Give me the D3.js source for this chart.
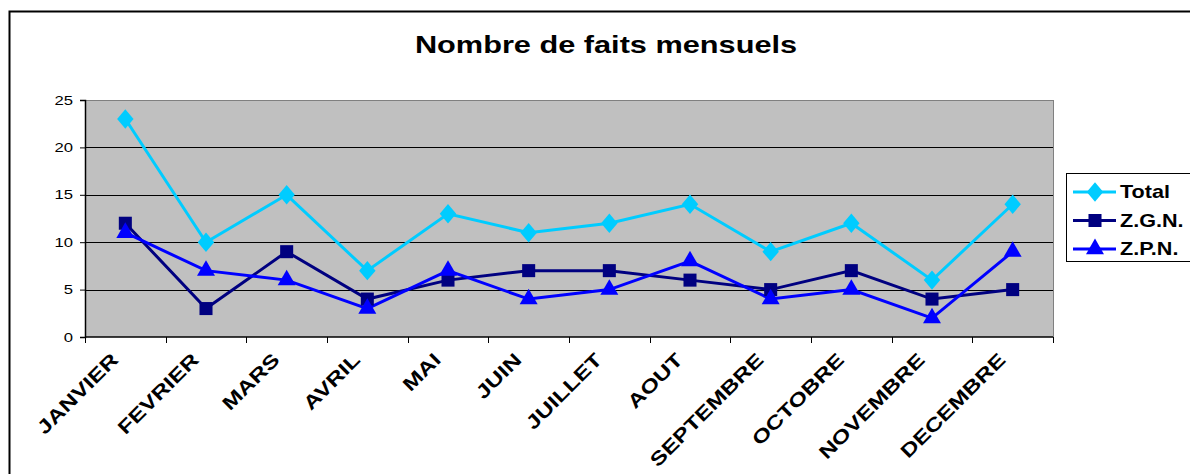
<!DOCTYPE html>
<html>
<head>
<meta charset="utf-8">
<script src="https://cdn.jsdelivr.net/npm/d3@7"></script>
<style>
  body { margin: 0; background: #fff; }
  text { font-family: Arial, "Liberation Sans", sans-serif; }
</style>
</head>
<body>
<script>
var months = ["JANVIER", "FEVRIER", "MARS", "AVRIL", "MAI", "JUIN", "JUILLET", "AOUT", "SEPTEMBRE", "OCTOBRE", "NOVEMBRE", "DECEMBRE"];
var total = [23, 10, 15, 7, 13, 11, 12, 14, 9, 12, 6, 14];
var zgn = [12, 3, 9, 4, 6, 7, 7, 6, 5, 7, 4, 5];
var zpn = [11, 7, 6, 3, 7, 4, 5, 8, 4, 5, 2, 9];
var seriesNames = ["Total", "Z.G.N.", "Z.P.N."];
var yTicks = [0, 5, 10, 15, 20, 25];

var margin = {top: 100, right: 137, bottom: 137, left: 85};
var W = 1190, H = 474;
var width = W - margin.left - margin.right;
var height = H - margin.top - margin.bottom;
var stretch = 1.28; // text in the original is drawn wider than normal

var svg = d3.select('body').append('svg')
  .attr('width', W)
  .attr('height', H);

// outer frame (cropped on right/bottom)
svg.append('rect')
  .attr('x', 9.5).attr('y', 11.5)
  .attr('width', W + 10).attr('height', H + 10)
  .attr('fill', 'none').attr('stroke', '#000').attr('stroke-width', 2);

svg.append('text')
  .attr('text-anchor', 'middle')
  .attr('transform', 'translate(606,53) scale(' + stretch + ',1)')
  .style('font-weight', 'bold').style('font-size', '24px')
  .text('Nombre de faits mensuels');

var g = svg.append('g')
  .attr('transform', 'translate(' + margin.left + ',' + margin.top + ')');

var xScale = d3.scaleBand().domain(months).range([0, width]);
var yScale = d3.scaleLinear().domain([0, 25]).range([height, 0]);

g.append('rect')
  .attr('width', width).attr('height', height)
  .attr('fill', '#c0c0c0');

// gridlines
g.selectAll('.grid').data(yTicks.filter(function(d){ return d > 0; }))
  .enter().append('line')
  .attr('x1', 0).attr('x2', width)
  .attr('y1', function(d){ return Math.round(yScale(d)) + 0.5; })
  .attr('y2', function(d){ return Math.round(yScale(d)) + 0.5; })
  .attr('stroke', function(d){ return d == 25 ? '#808080' : '#000'; })
  .attr('stroke-width', 1.2);

g.append('line')
  .attr('x1', width + 0.5).attr('x2', width + 0.5)
  .attr('y1', 0).attr('y2', height)
  .attr('stroke', '#808080');

// y axis
var yAxis = d3.axisLeft(yScale).tickValues(yTicks).tickSize(5).tickPadding(7);
var ya = g.append('g').call(yAxis);
ya.select('.domain').attr('stroke', '#000').attr('stroke-width', 1.5);
ya.selectAll('text')
  .style('font-size', '13px').attr('fill', '#000')
  .attr('transform', function(){
    var x = +d3.select(this).attr('x');
    return 'translate(' + x + ',0) scale(' + stretch + ',1)';
  })
  .attr('x', 0);

// x axis with ticks at band boundaries
var xa = g.append('g').attr('transform', 'translate(0,' + height + ')');
xa.append('line').attr('x1', 0).attr('x2', width).attr('stroke', '#000').attr('stroke-width', 1.5);
xa.selectAll('.tk').data(d3.range(months.length + 1)).enter().append('line')
  .attr('x1', function(i){ return Math.round(i * xScale.step()) + 0.5; })
  .attr('x2', function(i){ return Math.round(i * xScale.step()) + 0.5; })
  .attr('y1', 0).attr('y2', 6)
  .attr('stroke', '#000');
xa.selectAll('.lbl').data(months).enter().append('text')
  .attr('text-anchor', 'end')
  .attr('transform', function(d){
    return 'translate(' + (xScale(d) + xScale.bandwidth() / 2 - 6) + ',' + 24 + ') rotate(-45) scale(' + stretch + ',1)';
  })
  .style('font-weight', 'bold').style('font-size', '19px')
  .text(function(d){ return d; });

var series = [
  {name: seriesNames[0], values: total, color: '#00ccff', shape: d3.symbolDiamond, size: 150},
  {name: seriesNames[1], values: zgn, color: '#000080', shape: d3.symbolSquare, size: 170},
  {name: seriesNames[2], values: zpn, color: '#0000ff', shape: d3.symbolTriangle, size: 140}
];

var line = d3.line()
  .x(function(d, i){ return xScale(months[i]) + xScale.bandwidth() / 2; })
  .y(function(d){ return yScale(d); });

series.forEach(function(s){
  g.append('path')
    .attr('d', line(s.values))
    .attr('fill', 'none')
    .attr('stroke', s.color)
    .attr('stroke-width', 3);
});
series.forEach(function(s){
  g.selectAll(null).data(s.values).enter().append('path')
    .attr('d', d3.symbol().type(s.shape).size(s.size))
    .attr('transform', function(d, i){
      var r = s.shape === d3.symbolDiamond ? ' scale(1.25,0.85)' : '';
      return 'translate(' + (xScale(months[i]) + xScale.bandwidth() / 2) + ',' + yScale(d) + ')' + r;
    })
    .attr('fill', s.color);
});

// legend
var lg = svg.append('g').attr('transform', 'translate(1066,173)');
lg.append('rect')
  .attr('x', 0.5).attr('y', 0.5).attr('width', 140).attr('height', 88)
  .attr('fill', '#fff').attr('stroke', '#000');
series.forEach(function(s, i){
  var y = 19 + i * 28.5;
  lg.append('line').attr('x1', 7).attr('x2', 50).attr('y1', y).attr('y2', y)
    .attr('stroke', s.color).attr('stroke-width', 3);
  lg.append('path')
    .attr('d', d3.symbol().type(s.shape).size(s.size))
    .attr('transform', 'translate(29,' + y + ')' + (s.shape === d3.symbolDiamond ? ' scale(1.25,0.85)' : ''))
    .attr('fill', s.color);
  lg.append('text')
    .attr('transform', 'translate(54,' + (y + 6) + ') scale(1.2,1)')
    .style('font-weight', 'bold').style('font-size', '18px')
    .text(s.name);
});
</script>
</body>
</html>
